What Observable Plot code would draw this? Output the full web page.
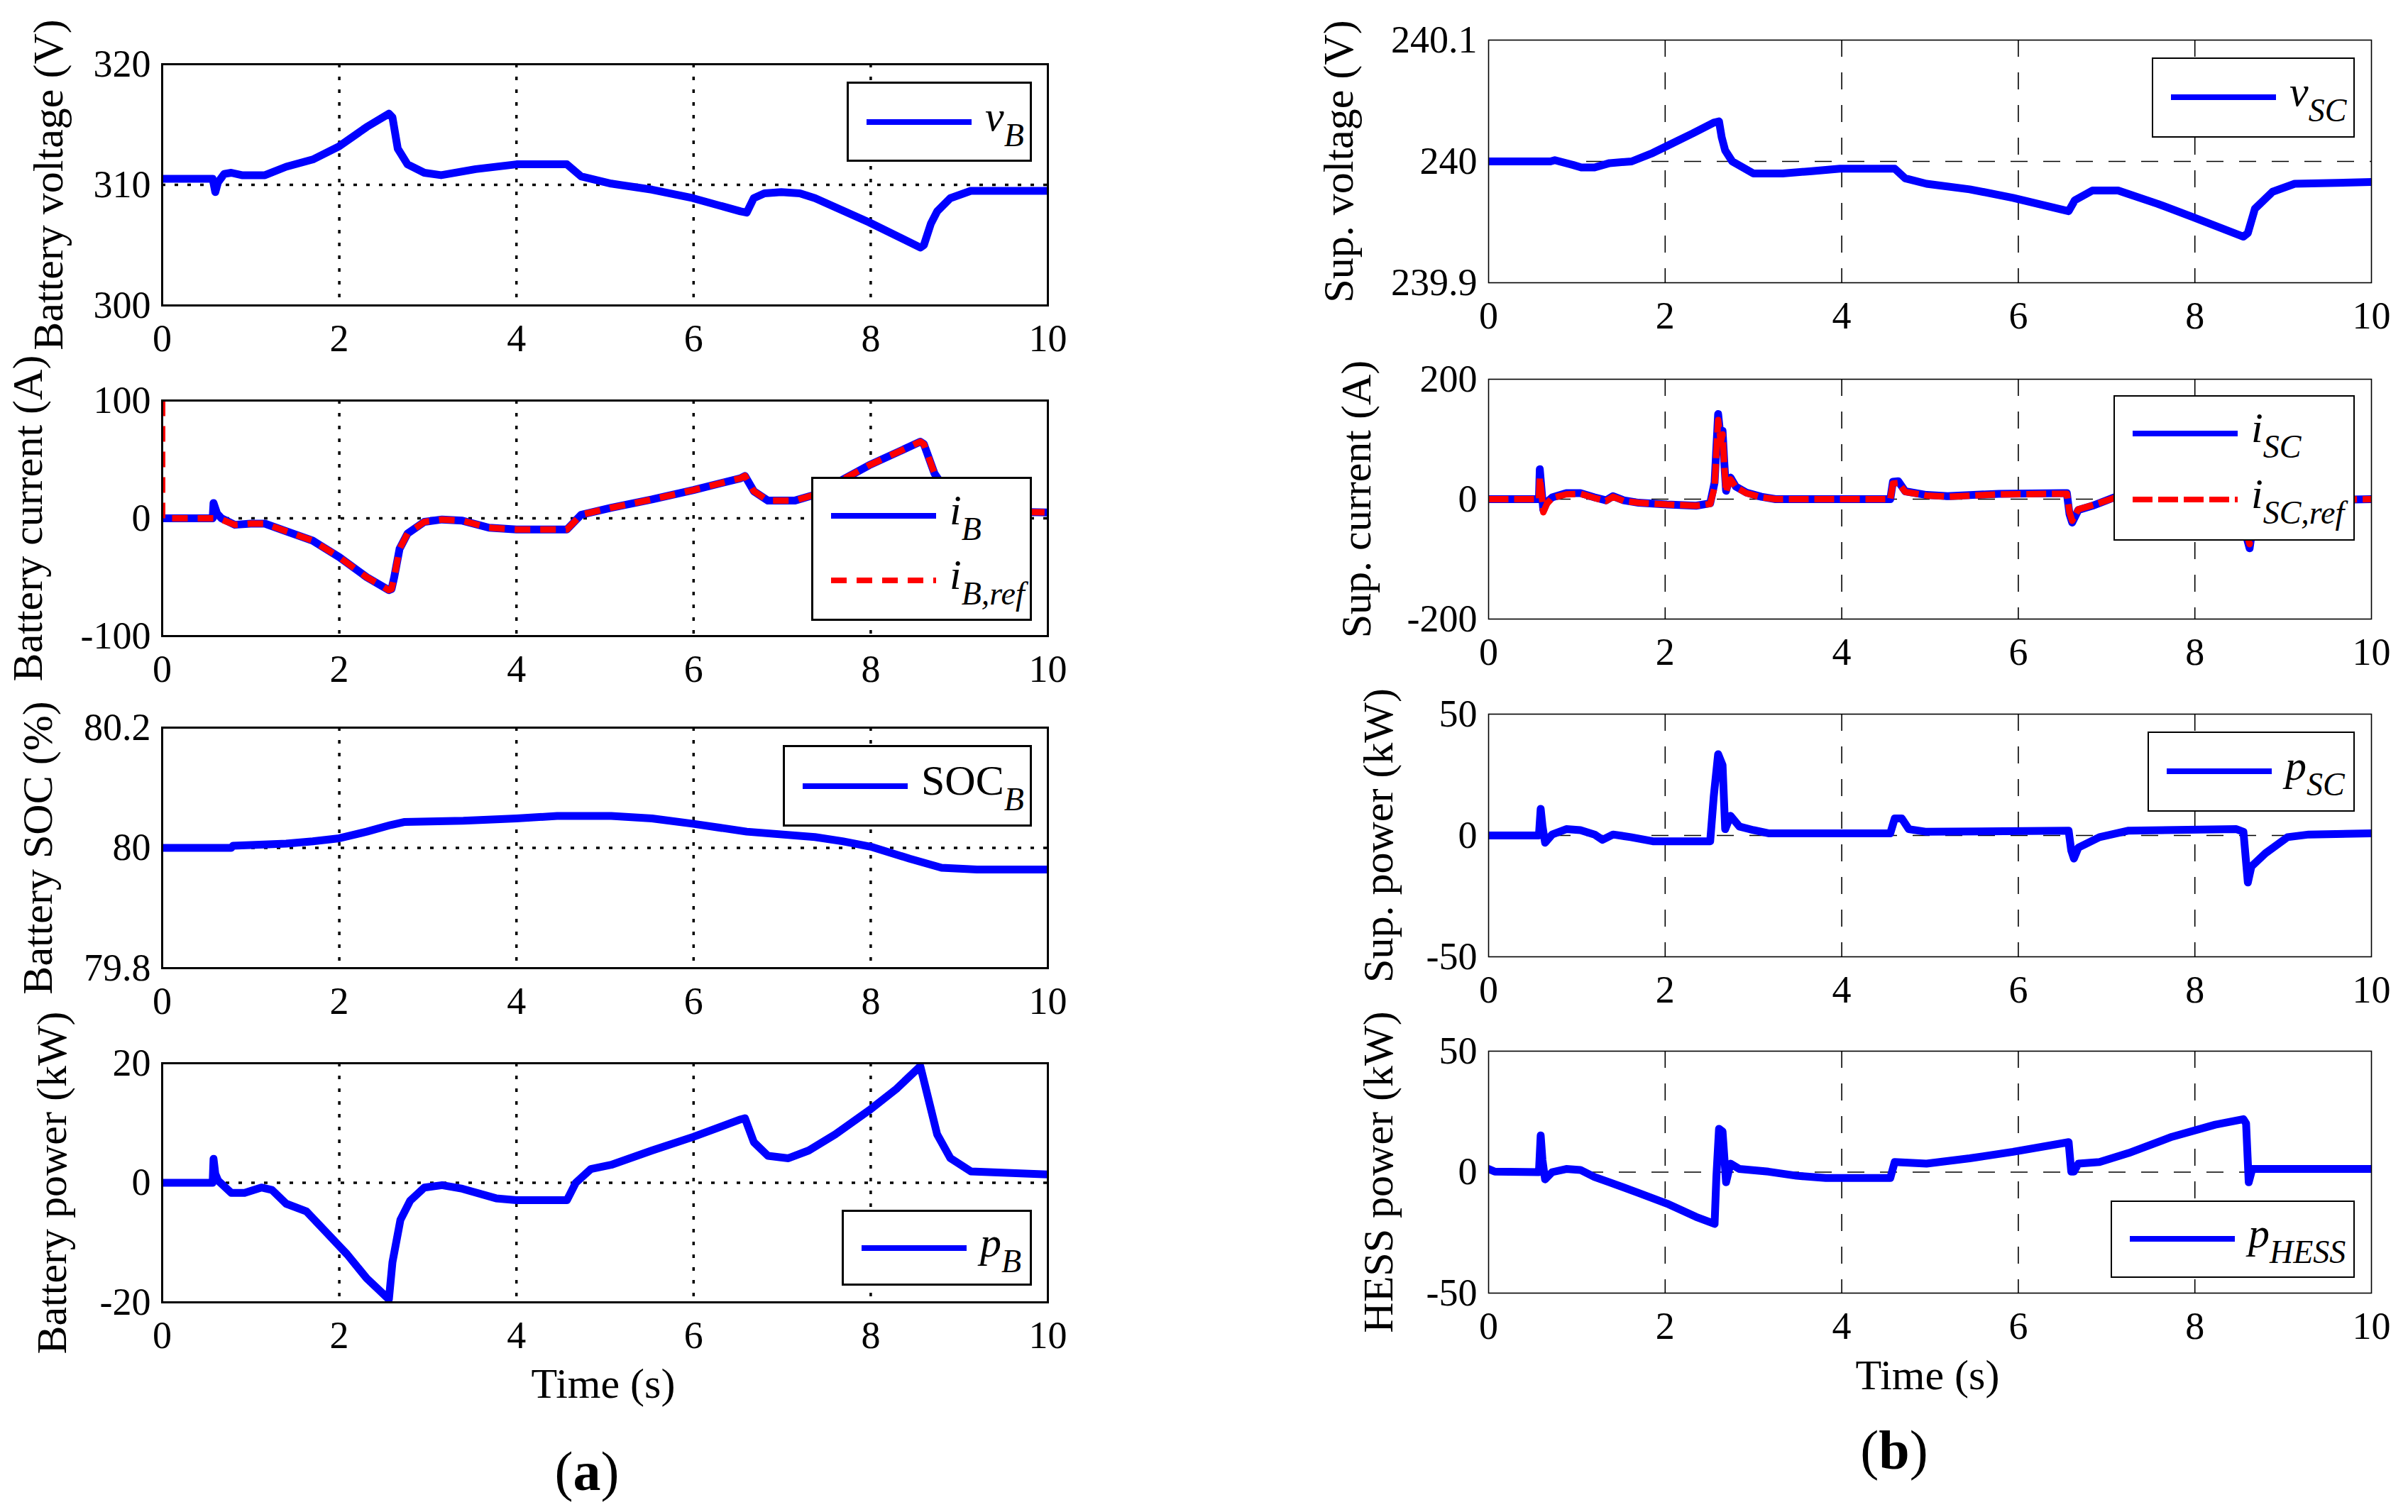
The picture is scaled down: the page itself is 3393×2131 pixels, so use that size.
<!DOCTYPE html>
<html>
<head>
<meta charset="utf-8">
<script src="https://cdn.jsdelivr.net/npm/d3@7"></script>
<script src="https://cdn.jsdelivr.net/npm/@observablehq/plot@0.6"></script>
<style>
  html, body { margin: 0; padding: 0; background: #fff; }
  #page { position: relative; width: 3393px; height: 2131px; background: #fff; font-family: "Liberation Serif", "Times New Roman", serif; overflow: hidden; }
  .legend { position: absolute; background: #fff; box-sizing: border-box; border: 3px solid #000; z-index: 5; }
  .legend.r { border-width: 2.5px; }
  .legend svg { position: absolute; overflow: visible; }
  .legend .lab { position: absolute; font-size: 60px; line-height: 60px; white-space: nowrap; color: #000; }
  .legend .sub { position: relative; top: 22px; font-size: 46px; font-style: italic; }
  .caption { position: absolute; transform: translate(-50%, -50%); white-space: nowrap; color: #000; line-height: 1; }
</style>
</head>
<body>
<div id="page"></div>
<script>
// ---------------- data ----------------
const xTicks = [0, 2, 4, 6, 8, 10];

// (a) Battery voltage v_B (V)
const vB_t = [0, 0.57, 0.6, 0.63, 0.7, 0.78, 0.9, 1.16, 1.4, 1.7, 2.0, 2.31, 2.56, 2.6, 2.66, 2.77, 2.96, 3.15, 3.54, 4.0, 4.57, 4.73, 5.07, 5.53, 5.99, 6.53, 6.6, 6.68, 6.8, 6.99, 7.2, 7.37, 7.98, 8.56, 8.6, 8.68, 8.75, 8.9, 9.13, 10];
const vB_v = [310.5, 310.5, 309.4, 310.2, 310.9, 311.0, 310.8, 310.8, 311.5, 312.1, 313.2, 314.8, 315.9, 315.6, 313.0, 311.7, 311.0, 310.8, 311.3, 311.7, 311.7, 310.7, 310.1, 309.6, 308.9, 307.8, 307.7, 308.9, 309.3, 309.4, 309.3, 308.9, 306.9, 304.8, 305.0, 306.8, 307.8, 308.9, 309.5, 309.5];

// (a) Battery current i_B and i_B,ref (A)
const iB_t = [0, 0.57, 0.58, 0.62, 0.67, 0.82, 1.0, 1.16, 1.4, 1.7, 2.0, 2.31, 2.56, 2.59, 2.62, 2.68, 2.77, 2.96, 3.16, 3.39, 3.69, 4.0, 4.57, 4.73, 5.07, 5.53, 6.0, 6.53, 6.58, 6.68, 6.84, 7.14, 7.37, 7.98, 8.56, 8.6, 8.72, 8.9, 9.1, 9.3, 10];
const iB_v = [0, 0, 13, 4, 0, -5.5, -4.5, -4.5, -11, -19, -33, -50, -61, -60, -50, -26, -13, -3, -1, -2, -8, -9.5, -9.5, 3, 9, 16, 24, 34, 36, 23, 15, 15, 20, 45, 65, 63, 38, 18, 9, 6, 5];
const iBref_t = [0, 0, 0.57, 0.62, 0.67, 0.82, 1.0, 1.16, 1.4, 1.7, 2.0, 2.31, 2.56, 2.59, 2.62, 2.68, 2.77, 2.96, 3.16, 3.39, 3.69, 4.0, 4.57, 4.73, 5.07, 5.53, 6.0, 6.53, 6.58, 6.68, 6.84, 7.14, 7.37, 7.98, 8.56, 8.6, 8.72, 8.9, 9.1, 9.3, 10];
const iBref_v = [100, 0, 0, 0, -1, -5.5, -4.5, -4.5, -11, -19, -33, -50, -61, -60, -50, -26, -13, -3, -1, -2, -8, -9.5, -9.5, 3, 9, 16, 24, 34, 36, 23, 15, 15, 20, 45, 65, 63, 38, 18, 9, 6, 5];

// (a) Battery SOC_B (%)
const soc_t = [0, 0.78, 0.8, 1.4, 1.7, 2.0, 2.31, 2.58, 2.73, 3.4, 4.0, 4.46, 5.07, 5.53, 6.0, 6.6, 7.37, 7.68, 8.0, 8.44, 8.8, 9.2, 10];
const soc_v = [80.0, 80.0, 80.0036, 80.007, 80.011, 80.016, 80.027, 80.038, 80.043, 80.045, 80.049, 80.053, 80.053, 80.049, 80.04, 80.027, 80.018, 80.011, 80.002, 79.982, 79.967, 79.964, 79.964];

// (a) Battery power p_B (kW)
const pB_t = [0, 0.57, 0.58, 0.6, 0.63, 0.78, 0.93, 1.12, 1.24, 1.4, 1.63, 1.86, 2.09, 2.31, 2.56, 2.6, 2.69, 2.8, 2.96, 3.16, 3.39, 3.77, 4.0, 4.57, 4.67, 4.84, 5.07, 5.53, 6.0, 6.53, 6.58, 6.68, 6.84, 7.07, 7.3, 7.6, 7.98, 8.29, 8.56, 8.63, 8.75, 8.9, 9.13, 10];
const pB_v = [0, 0, 4, 1.5, 0.4, -1.7, -1.7, -0.8, -1.2, -3.5, -4.8, -8.4, -12, -16, -19.5, -13.3, -6.2, -3, -0.8, -0.4, -1, -2.6, -2.9, -2.9, 0, 2.3, 3, 5.4, 7.7, 10.6, 10.8, 6.8, 4.5, 4.1, 5.4, 8.1, 12.1, 15.7, 19.5, 15.3, 8.1, 4.1, 1.9, 1.4];

// (b) Supercapacitor voltage v_SC (V)
const vSC_t = [0, 0.7, 0.75, 0.96, 1.05, 1.2, 1.37, 1.62, 1.86, 2.07, 2.31, 2.55, 2.61, 2.64, 2.68, 2.76, 3.0, 3.33, 3.66, 3.98, 4.6, 4.72, 4.96, 5.45, 5.94, 6.51, 6.57, 6.64, 6.84, 7.13, 7.58, 7.98, 8.55, 8.6, 8.68, 8.88, 9.13, 10];
const vSC_v = [240.0, 240.0, 240.001, 239.997, 239.995, 239.995, 239.9986, 240.0, 240.007, 240.0145, 240.023, 240.032, 240.033, 240.02, 240.009, 240.0, 239.99, 239.99, 239.992, 239.994, 239.994, 239.986, 239.9816, 239.977, 239.97, 239.96, 239.959, 239.968, 239.976, 239.976, 239.965, 239.954, 239.938, 239.941, 239.961, 239.975, 239.9816, 239.983];

// (b) Supercapacitor current i_SC and i_SC,ref (A)
const iSC_t = [0, 0.57, 0.58, 0.6, 0.62, 0.66, 0.72, 0.88, 1.04, 1.2, 1.33, 1.41, 1.53, 1.7, 2.02, 2.35, 2.51, 2.56, 2.6, 2.63, 2.65, 2.67, 2.69, 2.72, 2.74, 2.8, 2.92, 3.09, 3.25, 3.82, 4.55, 4.58, 4.64, 4.72, 4.96, 5.2, 5.78, 6.51, 6.55, 6.58, 6.61, 6.68, 6.84, 7.09, 7.3, 8.0, 8.55, 8.58, 8.62, 8.65, 8.75, 9.0, 9.3, 9.6, 10];
const iSC_v = [0, 0, 50, 15, -18, -5, 3, 10, 10, 3, -2, 5, -2, -6, -9, -11, -7, 28, 142, 100, 114, 60, 14, 30, 36, 21, 11, 4, 0, 0, 0, 29, 30, 13, 7, 5, 9, 10, 10, -25, -39, -18, -11, 3, 8, 10, 9, -60, -82, -50, -30, -12, -4, -1, 0];
const iSCref_v = [0, 0, 36, 10, -22, -8, 2, 8, 9, 2, -3, 4, -3, -6, -9, -11, -8, 20, 132, 95, 108, 55, 12, 28, 33, 20, 10, 3, 0, 0, 0, 26, 27, 12, 6, 4, 8, 9, 9, -22, -36, -17, -10, 2, 7, 9, 8, -55, -75, -46, -28, -11, -4, -1, 0];

// (b) Supercapacitor power p_SC (kW)
const pSC_t = [0, 0.57, 0.59, 0.61, 0.64, 0.72, 0.88, 1.04, 1.2, 1.29, 1.41, 1.61, 1.86, 2.51, 2.55, 2.6, 2.65, 2.68, 2.74, 2.84, 3.0, 3.17, 4.55, 4.6, 4.68, 4.76, 4.96, 6.57, 6.6, 6.63, 6.68, 6.92, 7.25, 8.47, 8.55, 8.6, 8.64, 8.8, 9.05, 9.29, 10];
const pSC_v = [0, 0, 11, 4, -3, 0.4, 2.6, 2.2, 0.4, -1.8, 0.4, -0.7, -2.4, -2.4, 15.9, 33.5, 29, 2.6, 8.1, 3.7, 2.2, 0.9, 0.9, 7, 7, 2.6, 1.5, 2, -6.2, -9.5, -5, -0.7, 2, 2.6, 1.5, -19.4, -12.8, -7.3, -0.7, 0.4, 0.9];

// (b) HESS power p_HESS (kW)
const pH_t = [0, 0.07, 0.57, 0.59, 0.61, 0.64, 0.72, 0.88, 1.04, 1.2, 1.37, 1.7, 2.02, 2.35, 2.56, 2.58, 2.61, 2.65, 2.69, 2.74, 2.84, 3.17, 3.49, 3.82, 4.55, 4.6, 4.96, 5.45, 5.94, 6.57, 6.6, 6.63, 6.68, 6.92, 7.25, 7.74, 8.23, 8.55, 8.58, 8.61, 8.65, 10];
const pH_v = [1.3, 0.2, 0, 15.2, 5, -3, 0, 1.3, 0.9, -2, -4.2, -8.6, -13, -18.5, -21.4, -2, 17.9, 16.8, -4.2, 3.5, 1.3, 0.2, -1.5, -2.4, -2.4, 4.2, 3.5, 5.7, 8.4, 12.4, 0.2, 0.2, 3.5, 4.2, 7.9, 14.6, 19.6, 21.9, 20.1, -4.2, 1.3, 1.3];

// axis tick labels / titles
const yTicksVB = [300, 310, 320];
const yTicksIB = [-100, 0, 100];
const yTicksSOC = [79.8, 80, 80.2];
const yTicksPB = [-20, 0, 20];
const yTicksVSC = [239.9, 240, 240.1];
const yTicksISC = [-200, 0, 200];
const yTicksPSC = [-50, 0, 50];
const yTicksPH = [-50, 0, 50];
const yLabels = ["Battery voltage (V)", "Battery current (A)", "Battery SOC (%)", "Battery power (kW)",
                 "Sup. voltage (V)", "Sup. current (A)", "Sup. power (kW)", "HESS power (kW)"];
const xLabel = "Time (s)";

// ---------------- drawing ----------------
const page = document.getElementById("page");
const BLUE = "#0000ff", RED = "#ff0000";
const rows = (t, v) => t.map((x, i) => ({t: x, v: v[i]}));

function panel(p) {
  const mL = 320, mR = 70, mT = 40, mB = 100;
  const W = p.x1 - p.x0, H = p.y1 - p.y0;
  const left = p.side === "L";
  const gridStyle = left
    ? {stroke: "#000", strokeOpacity: 1, strokeWidth: 3.5, strokeDasharray: "5,13"}
    : {stroke: "#000", strokeOpacity: 1, strokeWidth: 1.6, strokeDasharray: "24,22"};
  const marks = [
    Plot.gridX(xTicks.slice(1, -1), gridStyle),
    Plot.gridY([p.yticks[1]], gridStyle),
    ...p.series.map(s => Plot.line(rows(s.t, s.v), {
      x: "t", y: "v", stroke: s.color, strokeWidth: s.dash ? 9 : 11,
      strokeDasharray: s.dash || null,
      strokeLinecap: s.dash ? "butt" : "round", strokeLinejoin: "round", clip: true
    })),
    Plot.frame({stroke: "#000", strokeWidth: left ? 3 : 1.6}),
    Plot.axisX({ticks: xTicks, tickSize: 0, tickPadding: 26, tickFormat: d => String(d), label: null}),
    Plot.axisY({ticks: p.yticks, tickSize: 0, tickPadding: 16, tickFormat: d => String(d),
                label: p.ylabel, labelAnchor: "center", labelArrow: "none", labelOffset: p.labelOffset})
  ];
  const svg = Plot.plot({
    width: W + mL + mR, height: H + mT + mB,
    marginLeft: mL, marginRight: mR, marginTop: mT, marginBottom: mB,
    x: {domain: [0, 10]},
    y: {domain: [p.yticks[0], p.yticks[2]]},
    style: {background: "none", overflow: "visible", fontFamily: "'Liberation Serif', serif", fontSize: "54px", color: "#000"},
    marks
  });
  svg.style.position = "absolute";
  svg.style.left = (p.x0 - mL) + "px";
  svg.style.top = (p.y0 - mT) + "px";
  svg.style.maxWidth = "none";
  d3.select(svg).selectAll('[aria-label="y-axis label"], [aria-label="y-axis label"] text')
    .attr("font-size", 60).style("font-size", "60px");
  page.appendChild(svg);
}

function legend(box, items, right) {
  const d = document.createElement("div");
  d.className = "legend" + (right ? " r" : "");
  Object.assign(d.style, {left: box[0] + "px", top: box[1] + "px", width: box[2] + "px", height: box[3] + "px"});
  const n = items.length;
  items.forEach((it, i) => {
    const cy = n === 1 ? box[3] / 2 - 3 : (i === 0 ? 0.27 : 0.72) * box[3] - 3;
    const ns = "http://www.w3.org/2000/svg";
    const s = document.createElementNS(ns, "svg");
    s.setAttribute("width", 150); s.setAttribute("height", 20);
    s.style.left = "25px"; s.style.top = (cy - 10) + "px";
    const l = document.createElementNS(ns, "line");
    l.setAttribute("x1", 0); l.setAttribute("x2", 148); l.setAttribute("y1", 10); l.setAttribute("y2", 10);
    l.setAttribute("stroke", it.color); l.setAttribute("stroke-width", 8);
    if (it.dash) l.setAttribute("stroke-dasharray", it.dash);
    s.appendChild(l); d.appendChild(s);
    const t = document.createElement("span");
    t.className = "lab";
    t.style.left = "192px";
    t.style.top = (cy + 12 - 50) + "px";
    t.innerHTML = it.html;
    d.appendChild(t);
  });
  page.appendChild(d);
}

function caption(text, x, y, size, html) {
  const c = document.createElement("div");
  c.className = "caption";
  c.style.left = x + "px"; c.style.top = y + "px"; c.style.fontSize = size + "px";
  if (html) c.innerHTML = text; else c.textContent = text;
  page.appendChild(c);
}

const LX0 = 228, LX1 = 1476, RX0 = 2097, RX1 = 3341;

panel({side: "L", x0: LX0, x1: LX1, y0: 90, y1: 430, yticks: yTicksVB, ylabel: yLabels[0], labelOffset: 183,
       series: [{t: vB_t, v: vB_v, color: BLUE}]});
panel({side: "L", x0: LX0, x1: LX1, y0: 564, y1: 896, yticks: yTicksIB, ylabel: yLabels[1], labelOffset: 212,
       series: [{t: iB_t, v: iB_v, color: BLUE}, {t: iBref_t, v: iBref_v, color: RED, dash: "22,14"}]});
panel({side: "L", x0: LX0, x1: LX1, y0: 1025, y1: 1364, yticks: yTicksSOC, ylabel: yLabels[2], labelOffset: 198,
       series: [{t: soc_t, v: soc_v, color: BLUE}]});
panel({side: "L", x0: LX0, x1: LX1, y0: 1498, y1: 1835, yticks: yTicksPB, ylabel: yLabels[3], labelOffset: 178,
       series: [{t: pB_t, v: pB_v, color: BLUE}]});

panel({side: "R", x0: RX0, x1: RX1, y0: 56, y1: 398, yticks: yTicksVSC, ylabel: yLabels[4], labelOffset: 234,
       series: [{t: vSC_t, v: vSC_v, color: BLUE}]});
panel({side: "R", x0: RX0, x1: RX1, y0: 534, y1: 872, yticks: yTicksISC, ylabel: yLabels[5], labelOffset: 209,
       series: [{t: iSC_t, v: iSC_v, color: BLUE}, {t: iSC_t, v: iSCref_v, color: RED, dash: "28,8"}]});
panel({side: "R", x0: RX0, x1: RX1, y0: 1006, y1: 1348, yticks: yTicksPSC, ylabel: yLabels[6], labelOffset: 178,
       series: [{t: pSC_t, v: pSC_v, color: BLUE}]});
panel({side: "R", x0: RX0, x1: RX1, y0: 1481, y1: 1822, yticks: yTicksPH, ylabel: yLabels[7], labelOffset: 178,
       series: [{t: pH_t, v: pH_v, color: BLUE}]});

legend([1193, 115, 261, 113], [{color: BLUE, html: '<i>v</i><span class="sub">B</span>'}]);
legend([1143, 672, 311, 203], [{color: BLUE, html: '<i>i</i><span class="sub">B</span>'},
                               {color: RED, dash: "22,14", html: '<i>i</i><span class="sub">B,ref</span>'}]);
legend([1103, 1050, 351, 115], [{color: BLUE, html: 'SOC<span class="sub">B</span>'}]);
legend([1186, 1705, 268, 107], [{color: BLUE, html: '<i>p</i><span class="sub">B</span>'}]);
legend([3032, 81, 286, 113], [{color: BLUE, html: '<i>v</i><span class="sub">SC</span>'}], true);
legend([2978, 557, 340, 205], [{color: BLUE, html: '<i>i</i><span class="sub">SC</span>'},
                               {color: RED, dash: "28,8", html: '<i>i</i><span class="sub">SC,ref</span>'}], true);
legend([3026, 1031, 292, 113], [{color: BLUE, html: '<i>p</i><span class="sub">SC</span>'}], true);
legend([2974, 1692, 344, 109], [{color: BLUE, html: '<i>p</i><span class="sub">HESS</span>'}], true);

caption(xLabel, 850, 1950, 60);
caption(xLabel, 2716, 1938, 60);
caption('(<b>a</b>)', 827, 2074, 78, true);
caption('(<b>b</b>)', 2669, 2044, 78, true);
</script>
</body>
</html>
